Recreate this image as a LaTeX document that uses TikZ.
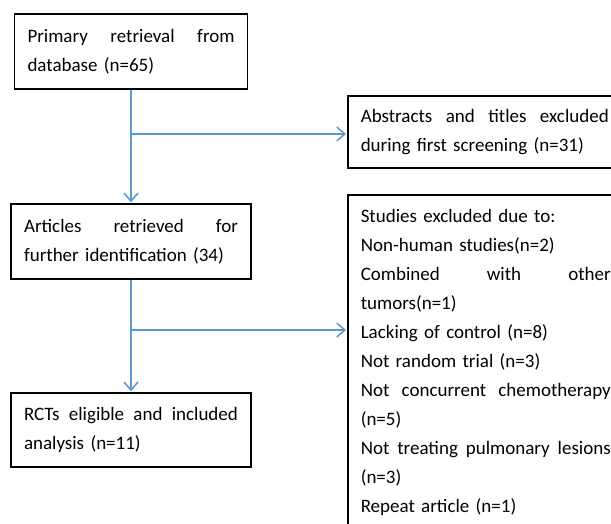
\documentclass[tikz,border=0pt]{standalone}
\usepackage{fontspec}
\setmainfont{Carlito}
\usetikzlibrary{arrows.meta}
\definecolor{flowblue}{RGB}{91,155,213}
\newcommand{\fillline}[2]{\leavevmode\hbox to #1{#2}}
\tikzset{
	stagebox/.style={draw=black,line width=1.5pt,fill=white,align=left,inner xsep=13pt,inner ysep=0pt,minimum height=75pt,font=\fontsize{19}{29}\selectfont},
	flowline/.style={draw=flowblue,line width=1.6pt,-{Straight Barb[length=8pt,width=14pt]},shorten >=1pt}
}
\begin{document}
\begin{tikzpicture}[x=1pt,y=-1pt]
			\useasboundingbox(0,0)rectangle(611,523);
			\node[stagebox,text width=207pt](primary)at(131,51.5){\fillline{207pt}{Primary\hfill retrieval\hfill from}\\database (n=65)};
			\node[stagebox,text width=214pt](articles)at(131,241.5){\fillline{214pt}{Articles\hfill retrieved\hfill for}\\further identification (34)};
			\node[stagebox,text width=214pt,minimum height=74pt](rcts)at(131,430){\fillline{214pt}{RCTs\hfill eligible\hfill and\hfill included}\\analysis (n=11)};
			\node[stagebox,text width=248pt,minimum height=72pt,anchor=west](abstracts)at(347,132){\fillline{248pt}{Abstracts\hfill and\hfill titles\hfill excluded}\\during first screening (n=31)};
			\node[stagebox,text width=250pt,minimum height=0pt,text height=27.5pt,text depth=330pt,anchor=north west](excluded)at(347,194){Studies excluded due to:\\Non-human studies(n=2)\\\fillline{250pt}{Combined\hfill with\hfill other}\\tumors(n=1)\\Lacking of control (n=8)\\Not random trial (n=3)\\\fillline{250pt}{Not\hfill concurrent\hfill chemotherapy}\\(n=5)\\\fillline{250pt}{Not\hfill treating\hfill pulmonary\hfill lesions}\\(n=3)\\Repeat article (n=1)};
			\coordinate(split1)at(131,134);
			\coordinate(split2)at(131,330);
			\draw[flowline](primary)--(articles);
			\draw[flowline](articles)--(rcts);
			\draw[flowline](split1)--(split1-|abstracts.west);
			\draw[flowline](split2)--(split2-|excluded.west);
		\end{tikzpicture}
\end{document}
